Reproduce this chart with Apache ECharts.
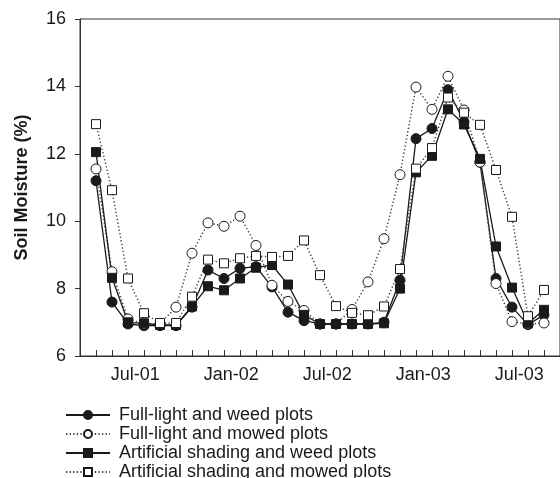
<!DOCTYPE html>
<html>
<head>
<meta charset="utf-8">
<script src="https://cdn.jsdelivr.net/npm/echarts@6/dist/echarts.min.js"></script>
<style>
html,body{margin:0;padding:0;background:#fff;}
#chart{width:560px;height:478px;}
</style>
</head>
<body>
<div id="chart"></div>
<script>
// Monthly sampling index (0 = first sampling date, ~May 2001)
var months = [0,1,2,3,4,5,6,7,8,9,10,11,12,13,14,15,16,17,18,19,20,21,22,23,24,25,26,27,28];
var tickLabels = ['Jul-01','Jan-02','Jul-02','Jan-03','Jul-03'];
var tickLabelPos = [2.45, 8.45, 14.45, 20.45, 26.45];
var yTicks = [6, 8, 10, 12, 14, 16];

var fullLightWeed   = [11.2, 7.6, 6.95, 6.9, 6.9, 6.9, 7.45, 8.55, 8.3, 8.6, 8.65, 8.05, 7.3, 7.05, 6.95, 6.95, 6.95, 6.95, 7.0, 8.25, 12.45, 12.75, 13.9, 12.95, 11.75, 8.3, 7.45, 6.93, 7.22];
var fullLightMowed  = [11.55, 8.5, 7.1, 6.95, 6.95, 7.45, 9.05, 9.95, 9.85, 10.15, 9.28, 8.1, 7.62, 7.35, 6.95, 6.95, 7.38, 8.2, 9.48, 11.38, 13.98, 13.32, 14.3, 13.3, 11.75, 8.15, 7.02, 6.95, 6.98];
var shadeWeed       = [12.05, 8.32, 7.0, 6.97, 6.92, 6.92, 7.47, 8.07, 7.95, 8.3, 8.62, 8.7, 8.12, 7.22, 6.95, 6.95, 6.95, 6.95, 6.97, 8.0, 11.45, 11.94, 13.32, 12.87, 11.85, 9.25, 8.03, 6.97, 7.37];
var shadeMowed      = [12.88, 10.92, 8.3, 7.27, 6.98, 6.98, 7.76, 8.86, 8.75, 8.9, 8.97, 8.94, 8.97, 9.43, 8.4, 7.48, 7.28, 7.21, 7.47, 8.58, 11.56, 12.17, 13.67, 13.22, 12.86, 11.52, 10.13, 7.18, 7.96];

var seriesNames = ['Full-light and weed plots','Full-light and mowed plots','Artificial shading and weed plots','Artificial shading and mowed plots'];

function pairs(vals){ return months.map(function(m,i){ return [m, vals[i]]; }); }

var INK = '#1a1a1a';
var FONT = 'Liberation Sans, Arial, sans-serif';

function mk(name, vals, symbol, size, filled, dotted){
  return {
    name: name,
    type: 'line',
    data: pairs(vals),
    symbol: symbol,
    symbolSize: size,
    showSymbol: true,
    animation: false,
    lineStyle: { color: dotted ? '#444' : INK, width: dotted ? 1.5 : 1.3, type: dotted ? [1.3, 2.3] : 'solid' },
    itemStyle: { color: filled ? INK : '#fff', borderColor: INK, borderWidth: 1 },
    emphasis: { disabled: true },
    z: 2
  };
}

var chart = echarts.init(document.getElementById('chart'), null, {renderer:'canvas'});
chart.setOption({
  backgroundColor: '#fff',
  animation: false,
  textStyle: { fontFamily: FONT },
  grid: { left: 80, top: 19, width: 489, height: 337, show: true, borderColor: '#333', borderWidth: 1, backgroundColor: 'transparent' },
  xAxis: [{
    type: 'value', min: -1, max: 29, position: 'bottom',
    axisLine: { show: true, onZero: false, lineStyle: { color: '#333', width: 1 } },
    axisTick: { show: false },
    axisLabel: {
      show: true, customValues: tickLabelPos, margin: 10, fontSize: 18, color: INK, fontFamily: FONT,
      formatter: function(v){ var i = tickLabelPos.indexOf(v); return i >= 0 ? tickLabels[i] : ''; }
    },
    splitLine: { show: false }
  }, {
    type: 'value', min: -1, max: 29, interval: 1, position: 'bottom', offset: 0,
    axisLine: { show: false, onZero: false },
    axisTick: { show: true, inside: true, length: 6, lineStyle: { color: '#333', width: 1 } },
    axisLabel: { show: false },
    splitLine: { show: false }
  }],
  yAxis: {
    type: 'value', min: 6, max: 16, interval: 2,
    name: 'Soil Moisture (%)', nameLocation: 'middle', nameGap: 49,
    nameTextStyle: { fontSize: 18, fontWeight: 'bold', color: INK, fontFamily: FONT },
    axisLine: { show: true, onZero: false, lineStyle: { color: '#333', width: 1 } },
    axisTick: { show: true, inside: false, length: 5, lineStyle: { color: '#333' } },
    axisLabel: { fontSize: 18, color: INK, margin: 14, fontFamily: FONT },
    splitLine: { show: false }
  },
  legend: {
    orient: 'vertical', left: 65, top: 406, height: 100, padding: 0,
    itemWidth: 44, itemHeight: 10, itemGap: 1,
    data: seriesNames,
    selectedMode: false,
    textStyle: { fontSize: 18, color: INK, fontFamily: FONT, lineHeight: 18, padding: [0,0,0,4] }
  },
  series: [
    mk(seriesNames[0], fullLightWeed, 'circle', 10, true, false),
    mk(seriesNames[1], fullLightMowed, 'circle', 10, false, true),
    mk(seriesNames[2], shadeWeed, 'rect', 9, true, false),
    mk(seriesNames[3], shadeMowed, 'rect', 9, false, true)
  ]
});
</script>
</body>
</html>
